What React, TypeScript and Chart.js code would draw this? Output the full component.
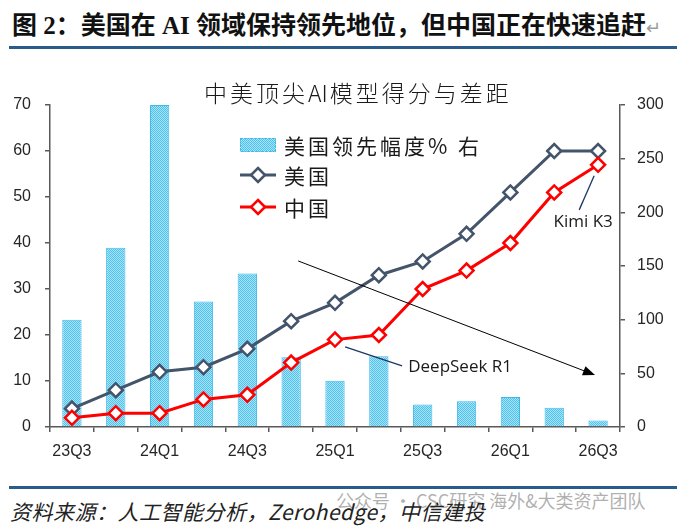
import React, { useEffect, useRef } from 'react';
import { Chart, registerables } from 'chart.js';

Chart.register(...registerables);

// ---------- data ----------
const categories = ['23Q3', '23Q4', '24Q1', '24Q2', '24Q3', '24Q4', '25Q1', '25Q2', '25Q3', '25Q4', '26Q1', '26Q2', '26Q3'];
const usLeadPct = [100, 167, 300, 117, 143, 65, 43, 66, 21, 24, 28, 18, 6];
const usScores = [4, 8, 12, 13, 17, 23, 27, 33, 36, 42, 51, 60, 60];
const cnScores = [2, 3, 3, 6, 7, 14, 19, 20, 30, 34, 40, 51, 57];
const leftAxis = { min: 0, max: 70, step: 10 };
const rightAxis = { min: 0, max: 300, step: 50 };
const legendLabels = ['美国领先幅度% 右', '美国', '中国'];
// annotation anchors in data units: [category index, left-axis value]
const trendArrow = { from: [5.16, 36.1], to: [11.93, 11.3] };
const deepseekNote = { text: 'DeepSeek R1', from: [6.23, 17.4], to: [7.53, 13.3], at: [7.67, 13.0] };
const kimiNote = { text: 'Kimi K3', from: [11.91, 54.6], to: [11.57, 47.2], at: [11.66, 44.6] };

const pageTitle = '图 2：美国在 AI 领域保持领先地位，但中国正在快速追赶';
const chartTitleParts = ['中美顶尖', 'AI', '模型得分与差距'];
const sourceText = '资料来源：人工智能分析，Zerohedge，中信建投';
const watermark = '公众号 · CSC研究 海外&大类资产团队';

const US_COLOR = '#44546A';
const CN_COLOR = '#FF0000';
const AXIS_COLOR = '#595959';
const TICK_FONT = { family: '"Liberation Sans", Arial, sans-serif', size: 16 };

function makePattern(): CanvasPattern | string {
  const c = document.createElement('canvas');
  c.width = 2;
  c.height = 2;
  const x = c.getContext('2d');
  if (!x) return '#7CD2F2';
  x.fillStyle = '#A8E3F8';
  x.fillRect(0, 0, 2, 2);
  x.fillStyle = '#4EC1EC';
  x.fillRect(0, 0, 1, 1);
  x.fillRect(1, 1, 1, 1);
  return x.createPattern(c, 'repeat') || '#7CD2F2';
}

function diamond(ctx: CanvasRenderingContext2D, cx: number, cy: number, r: number, color: string) {
  ctx.save();
  ctx.beginPath();
  ctx.moveTo(cx, cy - r);
  ctx.lineTo(cx + r, cy);
  ctx.lineTo(cx, cy + r);
  ctx.lineTo(cx - r, cy);
  ctx.closePath();
  ctx.fillStyle = '#FFFFFF';
  ctx.fill();
  ctx.lineWidth = 2.5;
  ctx.strokeStyle = color;
  ctx.stroke();
  ctx.restore();
}

export default function App() {
  const ref = useRef<HTMLCanvasElement | null>(null);

  useEffect(() => {
    document.body.style.margin = '0';
    const canvas = ref.current;
    if (!canvas) return;
    const pattern = makePattern();

    const legendPlugin = {
      id: 'insideLegend',
      afterDraw(chart: any) {
        const ctx = chart.ctx as CanvasRenderingContext2D;
        const x0 = 240;
        const rows = [85, 115, 147];
        ctx.save();
        ctx.fillStyle = pattern as any;
        ctx.fillRect(x0, rows[0] - 7, 36, 14);
        ctx.setLineDash([2, 1.5]);
        ctx.strokeStyle = '#3CB9E8';
        ctx.lineWidth = 1;
        ctx.strokeRect(x0 + 0.5, rows[0] - 6.5, 35, 13);
        ctx.setLineDash([]);
        const colors = [US_COLOR, CN_COLOR];
        for (let i = 0; i < 2; i++) {
          const y = rows[i + 1];
          ctx.beginPath();
          ctx.moveTo(x0, y);
          ctx.lineTo(x0 + 36, y);
          ctx.lineWidth = 3;
          ctx.strokeStyle = colors[i];
          ctx.stroke();
          diamond(ctx, x0 + 18, y, 7, colors[i]);
        }
        ctx.fillStyle = '#1A1A1A';
        ctx.textBaseline = 'middle';
        ctx.textAlign = 'left';
        ctx.font = '21px "Noto Sans CJK SC", sans-serif';
        (ctx as any).letterSpacing = '3px';
        legendLabels.forEach((t, i) => ctx.fillText(t, x0 + 44, rows[i] + 1));
        (ctx as any).letterSpacing = '0px';
        ctx.restore();
      },
    };

    const notesPlugin = {
      id: 'notes',
      afterDatasetsDraw(chart: any) {
        const ctx = chart.ctx as CanvasRenderingContext2D;
        const xs = chart.scales.x;
        const ys = chart.scales.y;
        const P = (p: number[]) => [xs.getPixelForValue(p[0]), ys.getPixelForValue(p[1])];
        ctx.save();
        const [ax, ay] = P(trendArrow.from);
        const [bx, by] = P(trendArrow.to);
        const ang = Math.atan2(by - ay, bx - ax);
        const head = 13;
        const ex = bx - Math.cos(ang) * head * 0.8;
        const ey = by - Math.sin(ang) * head * 0.8;
        ctx.beginPath();
        ctx.moveTo(ax, ay);
        ctx.lineTo(ex, ey);
        ctx.strokeStyle = '#000000';
        ctx.lineWidth = 1;
        ctx.stroke();
        ctx.beginPath();
        ctx.moveTo(bx, by);
        ctx.lineTo(bx - head * Math.cos(ang - 0.38), by - head * Math.sin(ang - 0.38));
        ctx.lineTo(bx - head * Math.cos(ang + 0.38), by - head * Math.sin(ang + 0.38));
        ctx.closePath();
        ctx.fillStyle = '#000000';
        ctx.fill();
        ctx.strokeStyle = '#1F3864';
        ctx.lineWidth = 1.3;
        [deepseekNote, kimiNote].forEach((n) => {
          const [x1, y1] = P(n.from);
          const [x2, y2] = P(n.to);
          ctx.beginPath();
          ctx.moveTo(x1, y1);
          ctx.lineTo(x2, y2);
          ctx.stroke();
        });
        ctx.fillStyle = '#1A1A1A';
        ctx.font = '17px "Open Sans", Lato, sans-serif';
        ctx.textBaseline = 'middle';
        const [dx, dy] = P(deepseekNote.at);
        ctx.textAlign = 'left';
        ctx.fillText(deepseekNote.text, dx, dy);
        const [kx, ky] = P(kimiNote.at);
        ctx.textAlign = 'center';
        ctx.fillText(kimiNote.text, kx, ky);
        ctx.restore();
      },
    };

    const chart = new Chart(canvas, {
      type: 'bar',
      data: {
        labels: categories,
        datasets: [
          {
            type: 'line',
            label: '美国',
            data: usScores,
            yAxisID: 'y',
            borderColor: US_COLOR,
            borderWidth: 3,
            pointStyle: 'rectRot',
            pointRadius: 7,
            pointBorderWidth: 2.5,
            pointBackgroundColor: '#FFFFFF',
            pointBorderColor: US_COLOR,
            order: 1,
          } as any,
          {
            type: 'line',
            label: '中国',
            data: cnScores,
            yAxisID: 'y',
            borderColor: CN_COLOR,
            borderWidth: 3,
            pointStyle: 'rectRot',
            pointRadius: 7,
            pointBorderWidth: 2.5,
            pointBackgroundColor: '#FFFFFF',
            pointBorderColor: CN_COLOR,
            order: 0,
          } as any,
          {
            type: 'bar',
            label: '美国领先幅度% 右',
            data: usLeadPct,
            yAxisID: 'y1',
            backgroundColor: pattern as any,
            borderColor: '#3CB9E8',
            borderWidth: 1,
            categoryPercentage: 1,
            barPercentage: 0.44,
            order: 3,
          } as any,
        ],
      },
      options: {
        responsive: false,
        animation: false,
        events: [],
        layout: { padding: { top: 45, left: 0, right: 0, bottom: 0 } },
        plugins: {
          legend: { display: false },
          tooltip: { enabled: false },
          title: { display: false },
        },
        scales: {
          x: {
            offset: true,
            grid: { display: true, drawOnChartArea: false, drawTicks: true, tickLength: 5, color: AXIS_COLOR, lineWidth: 1.5, offset: true },
            border: { display: true, color: AXIS_COLOR, width: 1.5 },
            ticks: {
              autoSkip: false,
              maxRotation: 0,
              padding: 10,
              color: '#262626',
              font: TICK_FONT,
              callback: (_v: any, i: number) => (i % 2 === 0 ? categories[i] : ''),
            },
            afterFit: (s: any) => { s.height = 43; },
          },
          y: {
            position: 'left',
            min: leftAxis.min,
            max: leftAxis.max,
            grid: { display: true, drawOnChartArea: false, drawTicks: true, tickLength: 5, color: AXIS_COLOR, lineWidth: 1.5 },
            border: { display: true, color: AXIS_COLOR, width: 1.5 },
            ticks: { stepSize: leftAxis.step, padding: 14, color: '#262626', font: TICK_FONT },
            afterFit: (s: any) => { s.width = 50; },
          },
          y1: {
            position: 'right',
            min: rightAxis.min,
            max: rightAxis.max,
            grid: { display: true, drawOnChartArea: false, drawTicks: true, tickLength: 5, color: AXIS_COLOR, lineWidth: 1.5 },
            border: { display: true, color: AXIS_COLOR, width: 1.5 },
            ticks: { stepSize: rightAxis.step, padding: 12, color: '#262626', font: TICK_FONT },
            afterFit: (s: any) => { s.width = 57; },
          },
        },
      } as any,
      plugins: [legendPlugin, notesPlugin],
    });
    return () => chart.destroy();
  }, []);

  return (
    <div style={{ position: 'relative', width: 677, height: 529, background: '#FFFFFF', overflow: 'hidden' }}>
      <div
        style={{
          position: 'absolute', left: 12, top: 11, whiteSpace: 'nowrap',
          font: 'bold 25px/30px "Liberation Serif", "Noto Sans CJK SC", serif', color: '#111111',
        }}
      >
        {pageTitle}
        <span style={{ fontWeight: 'normal', color: '#9A9A9A', fontSize: 18 }}>↵</span>
      </div>
      <div style={{ position: 'absolute', left: 9, top: 46, width: 668, height: 3, background: '#2A5C8A' }} />
      <canvas ref={ref} width={677} height={410} style={{ position: 'absolute', left: 0, top: 60, width: 677, height: 410 }} />
      <div
        style={{
          position: 'absolute', left: 204, top: 77, whiteSpace: 'nowrap',
          font: '300 23px/30px "Noto Sans CJK SC", sans-serif', color: '#1A1A1A',
        }}
      >
        <span style={{ letterSpacing: '3px' }}>{chartTitleParts[0]}</span>
        <span style={{ letterSpacing: '0px' }}>{chartTitleParts[1]}</span>
        <span style={{ letterSpacing: '3px', marginLeft: 2 }}>{chartTitleParts[2]}</span>
      </div>
      <div style={{ position: 'absolute', left: 9, top: 486, width: 668, height: 3, background: '#2A5C8A' }} />
      <div
        style={{
          position: 'absolute', left: 336, top: 487, whiteSpace: 'nowrap',
          font: '18px/26px "Noto Sans CJK SC", sans-serif', color: 'rgba(150,150,150,0.75)',
        }}
      >
        {watermark}
      </div>
      <div
        style={{
          position: 'absolute', left: 10, top: 496, whiteSpace: 'nowrap', letterSpacing: '0.5px',
          font: 'italic 21px/30px "Noto Sans CJK SC", sans-serif', color: '#222222',
        }}
      >
        {sourceText}
      </div>
    </div>
  );
}
